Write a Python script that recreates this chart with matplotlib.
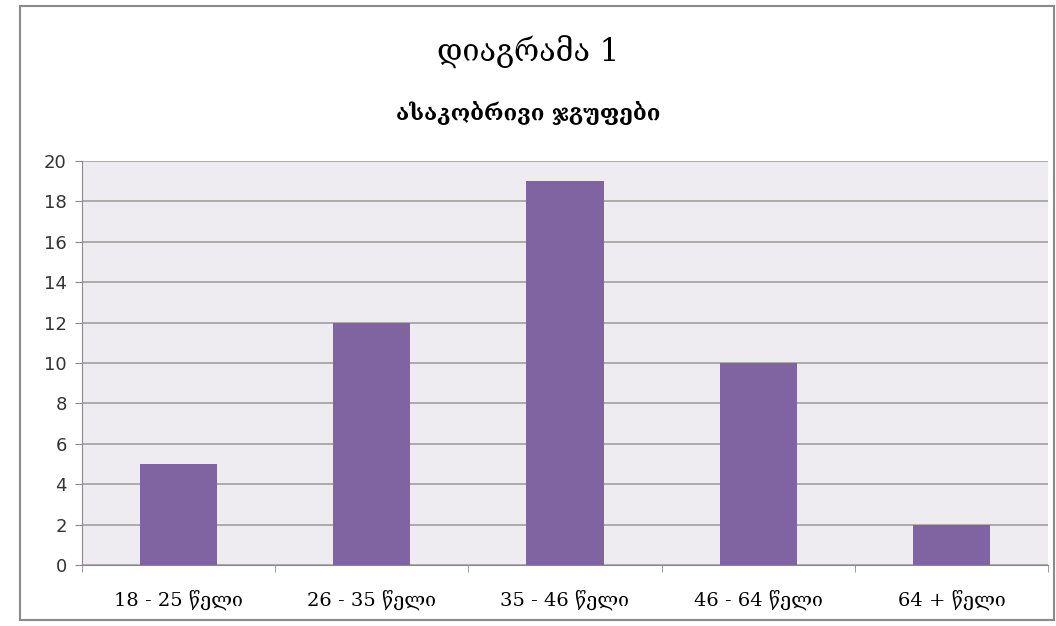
import matplotlib
matplotlib.use("Agg")
import matplotlib.pyplot as plt
from matplotlib.patches import Rectangle

categories = ["18 - 25 წელი", "26 - 35 წელი", "35 - 46 წელი", "46 - 64 წელი", "64 + წელი"]
values = [5, 12, 19, 10, 2]
title = "დიაგრამა 1"
subtitle = "ასაკობრივი ჯგუფები"
yticks = list(range(0, 21, 2))

fam = ["DejaVu Serif", "DejaVu Sans"]

fig = plt.figure(figsize=(10.56, 6.26), dpi=100)
fig.patch.set_facecolor("white")
fig.add_artist(Rectangle((20/1056, 6/626), 1 - 20/1056 - 2/1056, 1 - 12/626,
                         transform=fig.transFigure, fill=False, edgecolor="#8a8a8a", lw=1.5))

ax = fig.add_axes([82/1056, 1 - 565/626, (1048 - 82)/1056, (565 - 161)/626])
ax.set_facecolor("#EEEBF1")
x = list(range(len(categories)))
ax.bar(x, values, width=0.4, color="#8064A2", zorder=3)
ax.set_xlim(-0.5, len(categories) - 0.5)
ax.set_ylim(0, 20)
ax.set_yticks(yticks)
ax.yaxis.grid(True, color="#a0a0a0", lw=1.2, zorder=1)
ax.set_axisbelow(True)
ax.set_xticks(x)
ax.set_xticklabels(categories, family=fam, fontsize=14)
ax.tick_params(axis="x", length=0, pad=18)
ax.tick_params(axis="y", length=5, color="#8a8a8a", labelsize=13, pad=6)
# category separators
ax.set_xticks([i - 0.5 for i in range(len(categories) + 1)], minor=True)
ax.tick_params(axis="x", which="minor", length=5, color="#8a8a8a")
for s in ["top", "right"]:
    ax.spines[s].set_visible(False)
ax.spines["left"].set_color("#8a8a8a")
ax.spines["bottom"].set_color("#8a8a8a")
for lbl in ax.get_yticklabels():
    lbl.set_color("#333333")

fig.text(0.5, 1 - 52/626, title, ha="center", va="center", fontsize=22, family=fam)
fig.text(0.5, 1 - 113/626, subtitle, ha="center", va="center", fontsize=16, family=fam,
         fontweight="bold")

fig.savefig("out.png", dpi=100)
